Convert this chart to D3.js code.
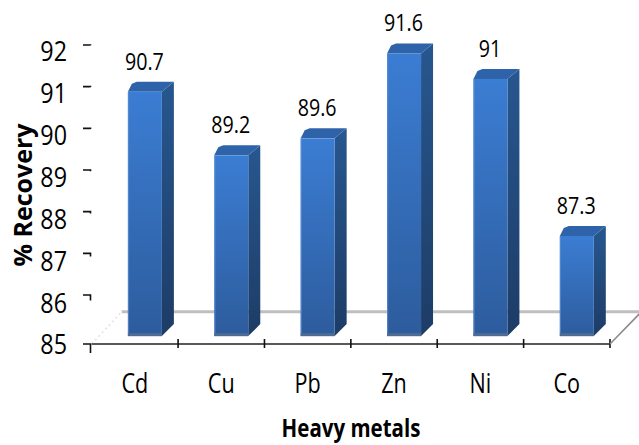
<!DOCTYPE html>
<html><head><meta charset="utf-8">
<script src="https://cdn.jsdelivr.net/npm/d3@7"></script>
<style>body{margin:0;background:#fff}svg{display:block}</style>
</head><body>
<script>
const categories = ["Cd","Cu","Pb","Zn","Ni","Co"];
const values = [90.7, 89.2, 89.6, 91.6, 91.0, 87.3];
const valueLabels = ["90.7","89.2","89.6","91.6","91","87.3"];
const yTickValues = [85,86,87,88,89,90,91,92];
const xTitle = "Heavy metals";
const yTitle = "% Recovery";

const W = 639, H = 445;
const FONT = "'Open Sans', 'Noto Sans', sans-serif";
const svg = d3.select("body").append("svg").attr("width", W).attr("height", H);

const x = d3.scaleBand().domain(categories).range([91.7, 610]);
const yBar = d3.scaleLinear().domain([85, 92]).range([333.6, 36.5]);
const yTick = d3.scaleLinear().domain([85, 86, 92]).range([344, 295, 45]);
const yLab = d3.scaleLinear().domain([85, 86, 92]).range([344, 303, 51]);
const yBack = d3.scaleLinear().domain([85, 92]).range([311.7, 20]);

const defs = svg.append("defs");
const gf = defs.append("linearGradient").attr("id","front").attr("x1",0).attr("y1",0).attr("x2",0).attr("y2",1);
gf.append("stop").attr("offset","0%").attr("stop-color","#3b7dd3");
gf.append("stop").attr("offset","100%").attr("stop-color","#2d5c9d");
const gs = defs.append("linearGradient").attr("id","side").attr("x1",0).attr("y1",0).attr("x2",0).attr("y2",1);
gs.append("stop").attr("offset","0%").attr("stop-color","#27578f");
gs.append("stop").attr("offset","100%").attr("stop-color","#1d3c66");

function scaledText(parent, tx, ty, sx, txt, size, weight, anchor, rot) {
  const g = parent.append("g").attr("transform",
    `translate(${tx},${ty})` + (rot ? ` rotate(${rot})` : "") + ` scale(${sx},1)`);
  g.append("text").attr("x",0).attr("y",0)
    .attr("font-family", FONT).attr("font-size", size).attr("font-weight", weight)
    .attr("text-anchor", anchor).attr("fill", "#000").text(txt);
  return g;
}

// floor
const backY = yBack(85);
svg.append("line").attr("x1", 121.7).attr("x2", W + 5).attr("y1", backY).attr("y2", backY)
  .attr("stroke", "#bfbfbf").attr("stroke-width", 3);
svg.append("line").attr("x1", x.range()[0]).attr("y1", yTick(85)).attr("x2", 121.7).attr("y2", backY)
  .attr("stroke", "#e2e2e2").attr("stroke-width", 1.5).attr("stroke-dasharray", "2,3");

// bars
const base = yBar(85) + 2.5;
const dx = 12, dyTop = 10, dyBot = 12, fw = 34;
const bars = svg.append("g");
categories.forEach((c, i) => {
  const cx = x(c) + x.bandwidth() / 2;
  const xl = cx - 7, xr = xl + fw;
  const yt = yBar(values[i]);
  bars.append("path")
    .attr("d", `M${xr},${yt} L${xr+dx},${yt-dyTop} L${xr+dx},${base-dyBot} L${xr},${base} Z`)
    .attr("fill", "url(#side)");
  bars.append("path")
    .attr("d", `M${xl},${yt} L${xl+4},${yt-dyTop+2} L${xl+dx-3},${yt-dyTop} L${xr+dx},${yt-dyTop} L${xr},${yt} Z`)
    .attr("fill", "#2f63a9");
  bars.append("rect").attr("x", xl).attr("y", yt).attr("width", fw).attr("height", base - yt)
    .attr("fill", "url(#front)");
  bars.append("rect").attr("x", xl).attr("y", base - 3).attr("width", fw).attr("height", 3)
    .attr("fill", "#4d6b93");
  bars.append("rect").attr("x", xl).attr("y", yt).attr("width", 1.2).attr("height", base - yt - 3)
    .attr("fill", "#5b8fd4").attr("opacity", 0.7);
  scaledText(svg, cx + 9.5, yt - 22, 0.82, valueLabels[i], 24, 400, "middle");
  scaledText(svg, cx, 393, 0.8, c, 27, 400, "middle");
});

// front axis
const axY = yTick(85);
svg.append("line").attr("x1", x.range()[0]).attr("x2", x.range()[1]).attr("y1", axY).attr("y2", axY)
  .attr("stroke", "#595959").attr("stroke-width", 2.2);
const bounds = categories.map(c => x(c)).concat([x.range()[1]]).slice(1);
svg.selectAll(".xt").data(bounds).enter().append("line")
  .attr("x1", d => d).attr("x2", d => d).attr("y1", axY - 5).attr("y2", axY + 4)
  .attr("stroke", "#111").attr("stroke-width", 1.6);
svg.append("line").attr("x1", x.range()[1]).attr("y1", axY).attr("x2", W + 2).attr("y2", backY + 0.5)
  .attr("stroke", "#8c8c8c").attr("stroke-width", 1.6);

// y ticks
const ytg = svg.append("g");
yTickValues.forEach(v => {
  const ty = yTick(v);
  const hook = 9 * Math.pow(0.6, v - 85);
  ytg.append("path").attr("d", `M83,${ty} L90.5,${ty} L90.5,${ty + hook}`)
    .attr("fill", "none").attr("stroke", "#111").attr("stroke-width", 1.6);
  scaledText(svg, 67, yLab(v) + 9.5, 0.88, String(v), 26.5, 400, "end");
});

// titles
scaledText(svg, 351, 437, 0.82, xTitle, 25, 700, "middle");
scaledText(svg, 31.5, 195, 1, yTitle, 25, 700, "middle", -90);
</script>
</body></html>
